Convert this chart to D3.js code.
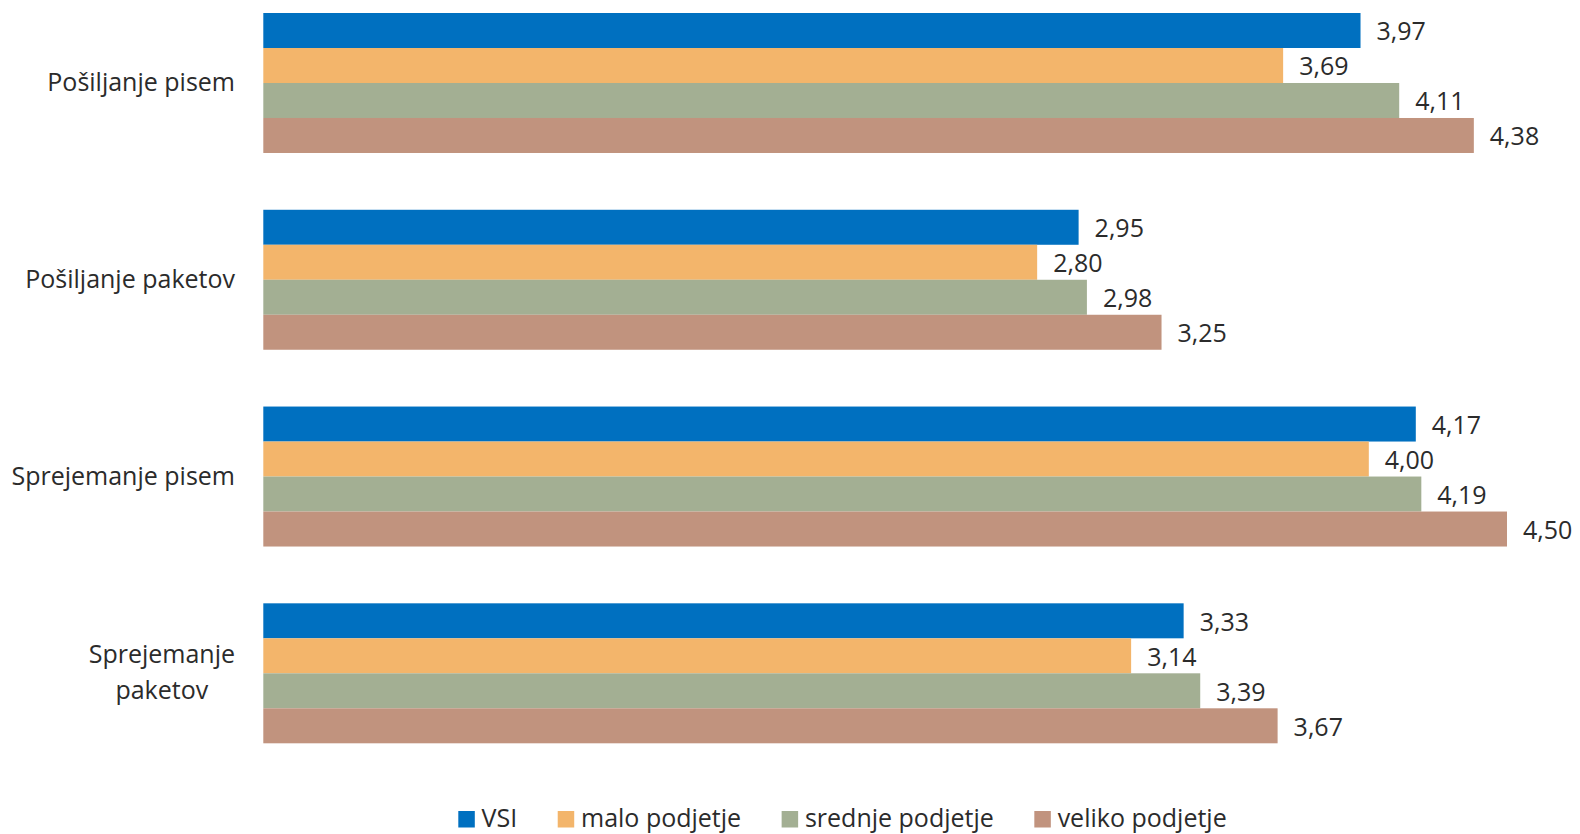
<!DOCTYPE html>
<html>
<head>
<meta charset="utf-8">
<script src="https://cdn.jsdelivr.net/npm/d3@7"></script>
<style>
  html, body { margin: 0; padding: 0; background: #ffffff; }
  svg { display: block; }
  text { font-family: "Open Sans", "Noto Sans", sans-serif; font-weight: 400; fill: #2b2b2b; }
</style>
</head>
<body>
<svg id="chart" width="1580" height="834"></svg>
<script>
// Categories (top to bottom) and series
const categories = ["Pošiljanje pisem", "Pošiljanje paketov", "Sprejemanje pisem", "Sprejemanje paketov"];
const seriesNames = ["VSI", "malo podjetje", "srednje podjetje", "veliko podjetje"];
const seriesColors = ["#0070C0", "#F3B56B", "#A3AF93", "#C1937E"];

const valuesVSI     = [3.97, 2.95, 4.17, 3.33];
const valuesMalo    = [3.69, 2.80, 4.00, 3.14];
const valuesSrednje = [4.11, 2.98, 4.19, 3.39];
const valuesVeliko  = [4.38, 3.25, 4.50, 3.67];
const seriesValues = [valuesVSI, valuesMalo, valuesSrednje, valuesVeliko];

const svg = d3.select("#chart");
const fontSize = 25;

// Scales
const x = d3.scaleLinear().domain([0, 4.5]).range([263.3, 1507]);
const y0 = d3.scaleBand().domain(categories).range([13, 743.3]).paddingInner(0.2886).paddingOuter(0);
const y1 = d3.scaleBand().domain(seriesNames).range([0, y0.bandwidth()]).padding(0);
const fmt = v => d3.format(".2f")(v).replace(".", ",");

const rows = categories.map((c, i) => ({
  cat: c,
  items: seriesNames.map((s, j) => ({ series: s, value: seriesValues[j][i], color: seriesColors[j] }))
}));

// Bars and value labels
const groups = svg.append("g").selectAll("g").data(rows).join("g")
  .attr("transform", d => `translate(0,${y0(d.cat)})`);

groups.selectAll("rect").data(d => d.items).join("rect")
  .attr("x", x(0))
  .attr("y", d => y1(d.series))
  .attr("width", d => x(d.value) - x(0))
  .attr("height", y1.bandwidth())
  .attr("fill", d => d.color);

groups.selectAll("text.val").data(d => d.items).join("text")
  .attr("class", "val")
  .attr("x", d => x(d.value) + 16)
  .attr("y", d => y1(d.series) + y1.bandwidth() / 2 + 10)
  .attr("font-size", fontSize)
  .text(d => fmt(d.value));

// Category labels (wrapped when too wide), block centred, right edge at 235
const labelRight = 235, maxLabelWidth = 225, lineGap = 36;
const catG = svg.append("g");
categories.forEach(c => {
  const probe = catG.append("text").attr("font-size", fontSize).text(c);
  let lines = [c];
  if (probe.node().getComputedTextLength() > maxLabelWidth) {
    const words = c.split(" ");
    lines = [words.slice(0, -1).join(" "), words[words.length - 1]];
  }
  probe.remove();
  const widths = lines.map(l => {
    const t = catG.append("text").attr("font-size", fontSize).text(l);
    const w = t.node().getComputedTextLength();
    t.remove();
    return w;
  });
  const maxW = d3.max(widths);
  const cy = y0(c) + y0.bandwidth() / 2;
  const cx = lines.length > 1 ? labelRight - maxW / 2 : labelRight;
  const anchor = lines.length > 1 ? "middle" : "end";
  lines.forEach((l, k) => {
    catG.append("text")
      .attr("x", cx)
      .attr("y", cy + 8 + (k - (lines.length - 1) / 2) * lineGap)
      .attr("text-anchor", anchor)
      .attr("font-size", fontSize)
      .text(l);
  });
});

// Legend
const legend = svg.append("g");
let lx = 458.3;
const sq = 16.5, textGap = 6.8, itemGap = 40.5, legendBase = 827;
seriesNames.forEach((s, j) => {
  legend.append("rect")
    .attr("x", lx).attr("y", 811).attr("width", sq).attr("height", sq)
    .attr("fill", seriesColors[j]);
  const t = legend.append("text")
    .attr("x", lx + sq + textGap)
    .attr("y", legendBase)
    .attr("font-size", fontSize)
    .text(s);
  lx += sq + textGap + t.node().getComputedTextLength() + itemGap;
});
</script>
</body>
</html>
